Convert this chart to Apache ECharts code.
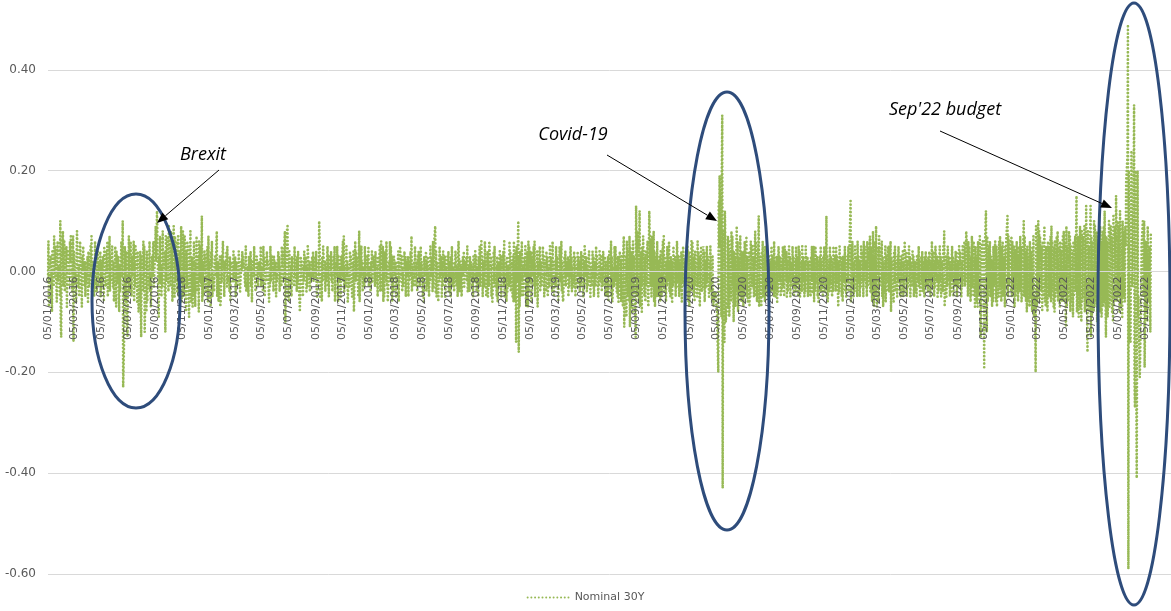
<!DOCTYPE html>
<html><head><meta charset="utf-8">
<script src="https://cdn.jsdelivr.net/npm/echarts@6/dist/echarts.min.js"></script>
<style>html,body{margin:0;padding:0;background:#fff}#c{width:1171px;height:611px}</style>
</head><body><div id="c"></div>
<script>
// ---- DATA ----
const seriesName = 'Nominal 30Y';
const yMin = -0.6, yMax = 0.6, yStep = 0.2;
const axisFirstDay = [2016, 1, 5];   // first category (dd/mm/yyyy axis, calendar days)
const axisLastDay = [2023, 1, 3];    // last category
const annotations = ['Brexit', 'Covid-19', "Sep'22 budget"];
// daily change of the 30Y nominal yield, in basis points; one sub-array per month (business days)
const d2016 = [
 [-2,6,-7,1,3,-5,0,-8,4,-3,7,2,-1,5,-6,3,6,-2,1],
 [-5,10,-11,-13,2,8,-3,-1,6,-4,3,5,-7,-2,4,1,-3,6,2,7,-4],
 [1,7,-14,4,-2,0,-6,3,8,-3,1,-5,-2,6,-1,-7,3,0,5,-3,2,-5,1],
 [-2,3,-6,4,1,-3,5,-1,7,-4,2,0,-5,-3,6,-2,-4,1,4,-3,2],
 [0,4,-5,2,-3,3,1,-6,5,-1,-3,4,0,6,-5,2,7,-4,1,-2,5,-1],
 [-3,2,-6,5,0,-7,4,-2,3,-5,-8,1,-4,6,-1,3,10,-23,-10,5,-6,4],
 [-5,-13,4,-2,7,-4,6,1,-5,3,-1,6,-6,2,-3,5,0,-6,4,-2,-8],
 [-2,4,-7,-13,3,-4,6,-1,5,-12,2,-8,4,-6,1,-3,6,-4,0,-7,3,-1,5],
 [6,-3,5,9,2,7,12,-6,-9,3,-2,7,-5,1,-3,8,0,4,-7,-12,7,-2],
 [7,3,-4,9,5,-3,8,0,6,-6,9,2,-5,7,-2,6,-4,3,7,-5,4],
 [-2,5,9,-6,8,-5,3,-4,7,-8,4,-3,6,0,-9,5,-2,8,-6,3,-7,2],
 [-5,6,-7,2,-1,7,-4,3,-8,6,-2,5,-3,11,-6,2,-5,4,0,3,-4,2]
];
const d2017 = [
 [5,-6,7,-3,2,-7,4,1,6,-5,0,-4,2,3,-1,8,-5,2,-1,-6,3,-7],
 [-6,3,-2,6,1,-1,-5,2,0,4,-3,5,-2,-1,-4,3,-6,2,1,0],
 [-2,4,-1,3,-5,0,2,-3,-2,4,1,-3,-4,2,0,4,1,3,-1,-2,-3,5,-4],
 [-2,1,-5,3,0,4,-3,1,-6,2,-1,5,1,0,-4,3,-1,2,-3,1],
 [2,-1,5,-3,1,-4,5,0,3,-5,2,-2,4,1,2,-6,1,-3,5,-2,3,0,1],
 [-4,3,-1,2,-5,1,-2,4,0,3,-4,1,-3,5,1,4,-2,6,8,-10,-3,7],
 [9,-5,2,-6,4,-2,1,-5,3,1,0,-3,5,-1,2,-4,3,-2,4,-1,-8],
 [-4,3,-1,2,-5,1,-2,4,0,3,-4,1,-3,5,-1,2,-4,0,-2,3,-1,4,-2],
 [-2,3,-1,4,-3,-5,2,-1,10,6,-5,2,-6,3,-2,5,-1,2,-4,1,-2],
 [5,-3,1,-5,3,-1,4,-2,0,-4,3,-1,5,-6,2,-1,5,-4,-6,3,-2,1],
 [-5,3,-1,6,-2,7,-4,1,-3,5,-1,2,-6,1,-3,4,0,3,-5,2,-2,4],
 [-8,6,-2,4,-1,3,-5,2,8,-6,-3,5,-1,2,-4,1,-3,5,-2,3,-1]
];
const d2018 = [
 [3,-1,5,-3,1,-4,2,0,4,-2,3,1,2,-3,4,-2,1,-5,3,-1,5,-4,2],
 [6,-4,5,-6,2,-5,4,-2,6,-3,1,-6,2,0,6,-2,5,-6,3,-1],
 [-4,3,-1,2,-5,1,-3,4,-6,2,-2,5,-1,3,-4,1,-3,4,0,3,-5,2],
 [-1,3,-5,2,-2,4,-1,7,-4,1,-3,2,-1,5,-3,2,-4,3,-1,4,-3],
 [-3,5,-1,2,-5,1,-6,3,-1,4,-4,2,-3,3,-5,1,-2,5,-1,3,-4,6,-3],
 [5,9,-4,4,-5,2,-6,1,-2,5,-1,3,-5,2,-3,4,-1,3,-5,1,-2],
 [3,-1,4,-4,2,-5,3,-1,5,-3,1,-4,2,-2,4,-3,1,-5,3,6,-4,2],
 [-3,1,-5,3,-1,4,-3,2,0,3,-2,5,-4,1,-4,3,-1,2,-3,1,-5,3,-2],
 [4,-2,3,-4,1,-5,3,-1,5,-3,6,-1,3,-5,2,-3,6,-1,2,-5],
 [4,-5,2,-3,6,-1,3,-5,1,-6,4,-2,5,-3,1,-5,3,-6,2,-3,4,-1,3],
 [-5,3,-1,4,-3,6,-5,2,-6,3,-4,1,-3,6,-2,4,-4,2,-5,3,-6,6],
 [-6,4,-14,5,-2,10,-16,3,-7,4,-5,6,-2,1,-5,3,-1,5,-3,-7,4]
];
const d2019 = [
 [-7,6,-4,5,-2,4,-6,3,-1,5,-3,6,-5,1,-3,4,-7,2,-1,5,-4,2],
 [-3,5,-1,3,-5,2,-4,4,-1,3,-5,1,-3,5,-2,3,-4,6,-1,2],
 [-5,2,-3,5,-1,3,-6,1,-3,5,-2,6,-4,2,-5,-6,3,-1,4,-3,2],
 [-1,3,-5,2,-3,5,-1,3,-4,1,-3,4,-2,3,-5,1,-3,4,-1,3,-4,2],
 [-3,4,-1,3,-5,2,-3,5,-1,3,-4,1,-3,4,-2,2,-5,1,-3,4,-1,3,-5],
 [2,-3,5,-1,3,-5,1,-3,4,-2,3,-4,1,-3,4,-1,3,-5,2,-2],
 [-5,3,-6,2,4,-3,6,-5,3,-6,1,-3,5,-2,5,-4,1,-5,3,-6,4,-3,2],
 [-6,3,-7,4,7,-11,-5,3,-9,6,-5,4,-6,7,-11,5,-7,4,-8,6,-4,3],
 [-7,-13,13,5,-5,8,-6,3,12,-7,4,-8,5,-3,7,-5,3,-6,4,-3,6],
 [-6,-7,4,12,-3,6,-5,7,-3,8,-6,4,-7,3,-5,6,-3,2,-5,3,-6,4,-3],
 [-5,6,-3,7,-4,3,-6,2,-3,5,-2,6,-4,2,-5,3,-6,2,-3,5,-2],
 [3,-5,2,-3,6,-2,3,-5,2,-4,4,-6,3,-2,5,-3,2,-5,3,-2,5,-4]
];
const d2020 = [
 [-6,4,-7,3,-4,6,-3,6,-5,3,-6,4,-3,2,-5,6,-3,4,-7,3,-2,5,-4],
 [-3,5,-2,4,-6,2,-3,5,-2,3,-5,2,-4,5,-2,-6,3,-5,-7,-4],
 [-5,-4,-6,-6,-8,-20,14,5,19,10,-9,20,31,-43,8,-14,12,6,-10,-9,-6,7],
 [-7,6,-9,4,-6,8,-3,7,-10,4,-6,3,-7,9,-4,6,-8,3,-5,7,-6,4],
 [-6,4,-7,3,-5,6,-3,7,-5,3,-6,4,-7,3,-5,6,-3,5,-2,3,-5],
 [8,-5,6,3,-6,4,11,-7,-6,3,-7,4,-3,6,-5,3,-6,5,-3,2,-5,3],
 [-5,3,-6,2,-4,5,-2,3,-5,6,-4,2,-5,3,-6,2,-4,5,-2,3,-5,2,-4],
 [5,-3,2,-5,5,-2,4,-5,2,-4,5,-2,3,-5,2,-3,5,-2,3,-5,2],
 [-4,5,-2,3,-5,5,-2,4,-5,2,-4,5,-2,3,-5,2,-4,5,-2,3,-5,2],
 [-4,2,-5,3,-2,5,-4,5,-6,2,-4,5,-2,3,-5,2,-6,3,-2,5,-4,2],
 [-5,3,-2,5,-4,-2,11,-5,3,-6,2,-4,5,-2,3,-5,2,-4,5,-2,3],
 [-4,5,-2,3,-7,2,-4,5,-2,3,-5,2,-6,3,-2,5,-4,2,-5,3,-2,5,-4]
];
const d2021 = [
 [3,14,-6,5,-3,6,-5,2,-4,5,-2,3,-5,6,-2,3,-5,2,-3,5,-2],
 [4,-5,6,-2,5,-3,2,-5,6,-3,5,-2,7,-4,5,-6,3,8,-5,-7],
 [6,-5,9,-4,-7,5,-6,7,-3,5,-2,6,-5,3,-7,2,-4,5,-6,3,-2,5,-4],
 [5,-4,6,-8,3,-5,2,-6,4,-2,5,-4,2,-5,3,-2,5,-4,2,-5,3,-2],
 [4,-5,2,-4,6,-2,4,-5,2,-3,5,-2,3,-5,2,-3,4,-2,3,-5,2],
 [-4,2,-5,3,-2,5,-3,2,-5,3,-2,4,-4,2,-5,3,-2,4,-3,2,-4,3],
 [-2,4,-5,2,-3,6,-2,4,-5,2,-3,5,-2,3,-5,2,-4,5,-2,3,-5,2],
 [-4,5,-2,8,-7,3,-5,2,-3,5,-2,3,-5,2,-4,5,-2,3,-5,2,-3,4],
 [-2,4,-5,2,-3,5,-2,4,-5,2,-3,5,-2,6,-3,5,-2,8,3,-5,6,-3],
 [5,-6,3,-5,7,-3,6,-5,3,-7,5,-6,3,-7,6,-5,7,7,-13,-6,5],
 [6,-3,-4,-19,3,12,-5,-12,7,-6,5,-3,6,-5,3,-7,2,-6,5,-3,6,-4],
 [-6,5,-7,3,-5,6,-3,7,-6,5,-3,6,-5,3,-7,5,-3,6,11,-5,7,-3,5]
];
const d2022 = [
 [6,-4,7,-5,6,-3,5,-7,4,-5,6,-4,3,-6,5,-4,7,-3,5,-6,4],
 [6,10,-5,7,-6,4,-8,5,-6,3,-7,6,-5,4,-8,5,-6,7,-9,-5],
 [-20,9,6,-7,10,-5,8,-6,7,-4,5,-8,6,-5,9,-6,4,-7,5,-8,6,-4,5],
 [-5,7,-6,9,-4,6,-7,5,-8,6,-5,7,-4,8,-6,5,-7,6,-5,4,-6],
 [7,-6,8,-5,6,-11,9,-7,5,-6,8,-4,7,-8,5,-6,4,-9,6,-5,7,-4],
 [6,15,-8,7,-9,6,-7,9,-10,8,-6,7,-5,9,-8,6,-7,13,-16,8,-7,5],
 [-8,13,-13,7,-9,6,-8,10,-7,9,-6,8,-10,7,-12,6,-8,9,-7,6,-9],
 [8,-7,9,-6,12,-13,7,-8,6,-9,10,-7,8,-6,9,-8,7,-10,11,-7,9,-6,15],
 [8,-6,10,-5,9,-8,12,-7,6,-9,10,-5,8,-6,9,5,18,23,49,-59,20,-12],
 [-14,10,24,8,-3,15,33,-22,-27,20,-41,-12,20,-9,-5,-21,-16,-10,-8,5,10],
 [-5,7,10,-19,6,-8,4,-10,9,-6,5,-4,-12,8]
];
const yearData = {2016: d2016, 2017: d2017, 2018: d2018, 2019: d2019, 2020: d2020, 2021: d2021, 2022: d2022};

// ---- BUILD ----
const pad = n => (n < 10 ? '0' : '') + n;
const categories = [];
const indexOfDay = {};
let t = Date.UTC(axisFirstDay[0], axisFirstDay[1] - 1, axisFirstDay[2]);
const tEnd = Date.UTC(axisLastDay[0], axisLastDay[1] - 1, axisLastDay[2]);
while (t <= tEnd) {
  const d = new Date(t);
  const y = d.getUTCFullYear(), m = d.getUTCMonth() + 1, day = d.getUTCDate();
  indexOfDay[y * 10000 + m * 100 + day] = categories.length;
  categories.push(pad(day) + '/' + pad(m) + '/' + y);
  t += 86400000;
}
const points = [];
Object.keys(yearData).forEach(yk => {
  const yr = +yk;
  yearData[yk].forEach((vals, mi) => {
    const days = [];
    const dim = new Date(Date.UTC(yr, mi + 1, 0)).getUTCDate();
    for (let day = 1; day <= dim; day++) {
      const wd = new Date(Date.UTC(yr, mi, day)).getUTCDay();
      if (wd === 0 || wd === 6) continue;
      const key = yr * 10000 + (mi + 1) * 100 + day;
      if (indexOfDay[key] === undefined) continue;
      days.push(indexOfDay[key]);
    }
    vals.forEach((v, i) => { if (i < days.length) points.push([days[i], v / 100]); });
  });
});

function arrow(x1, y1, x2, y2) {
  const a = Math.atan2(y2 - y1, x2 - x1), L = 11, W = 4.5;
  const bx = x2 - L * Math.cos(a), by = y2 - L * Math.sin(a);
  const px = -Math.sin(a) * W, py = Math.cos(a) * W;
  return [
    {type: 'line', z: 100, silent: true, shape: {x1, y1, x2: bx, y2: by}, style: {stroke: '#000', lineWidth: 1}},
    {type: 'polygon', z: 100, silent: true, shape: {points: [[x2, y2], [bx + px, by + py], [bx - px, by - py]]}, style: {fill: '#000'}}
  ];
}
function ell(cx, cy, rx, ry) {
  return {type: 'ellipse', z: 100, silent: true, shape: {cx, cy, rx, ry}, style: {fill: 'none', stroke: '#2E4C7B', lineWidth: 3}};
}
function label(text, x, y) {
  return {type: 'text', z: 100, silent: true, style: {text, x, y, font: 'italic 18px "Open Sans"', fill: '#000', align: 'center', verticalAlign: 'middle'}};
}

const gridTop = -31, gridBottom = 37, H = 611;
const plotH = H - gridTop - gridBottom;
const zeroY = gridTop + plotH * (yMax - 0) / (yMax - yMin);
const bottomY = H - gridBottom;

const chart = echarts.init(document.getElementById('c'), null, {renderer: 'canvas'});
chart.setOption({
  animation: false,
  backgroundColor: '#fff',
  grid: {left: 48, right: 0, top: gridTop, bottom: gridBottom, containLabel: false, outerBoundsMode: 'none'},
  legend: {
    data: [seriesName], bottom: 3, left: 'center', itemWidth: 42, itemHeight: 10, itemGap: 5,
    itemStyle: {color: 'rgba(0,0,0,0)', borderWidth: 0, opacity: 0},
    textStyle: {color: '#595959', fontSize: 11, fontFamily: 'DejaVu Sans'}
  },
  xAxis: {
    type: 'category', data: categories, boundaryGap: false, z: 5,
    offset: -(bottomY - zeroY),
    axisLine: {onZero: false, lineStyle: {color: '#d9d9d9'}},
    axisTick: {show: false},
    axisLabel: {
      rotate: 90, margin: 5, fontSize: 11, color: '#595959', fontFamily: 'DejaVu Sans',
      interval: (i, v) => { const p = v.split('/'); return p[0] === '05' && (+p[1]) % 2 === 1; }
    },
    splitLine: {show: false}
  },
  yAxis: {
    type: 'value', min: yMin, max: yMax, interval: yStep,
    axisLine: {show: false}, axisTick: {show: false},
    axisLabel: {margin: 12, fontSize: 12, color: '#595959', fontFamily: 'DejaVu Sans',
      formatter: v => Math.abs(v) < 1e-9 ? '0.00' : v.toFixed(2)},
    splitLine: {lineStyle: {color: '#d9d9d9', width: 1}}
  },
  series: [{
    type: 'line', name: seriesName, data: points, symbol: 'none', showSymbol: false,
    silent: true, progressive: 0, z: 2,
    itemStyle: {color: '#97B955'},
    lineStyle: {color: '#97B955', width: 2.7, type: [0.01, 3.7], cap: 'round'}
  }],
  graphic: {elements: [
    ell(136, 301, 44, 107), ell(727, 311, 42, 219), ell(1134, 304, 36, 301),
    ...arrow(219, 170, 157, 223), ...arrow(607, 155, 717, 221), ...arrow(940, 131, 1112, 208),
    label(annotations[0], 203, 155), label(annotations[1], 573, 135), label(annotations[2], 945, 110)
  ]}
});
</script></body></html>
